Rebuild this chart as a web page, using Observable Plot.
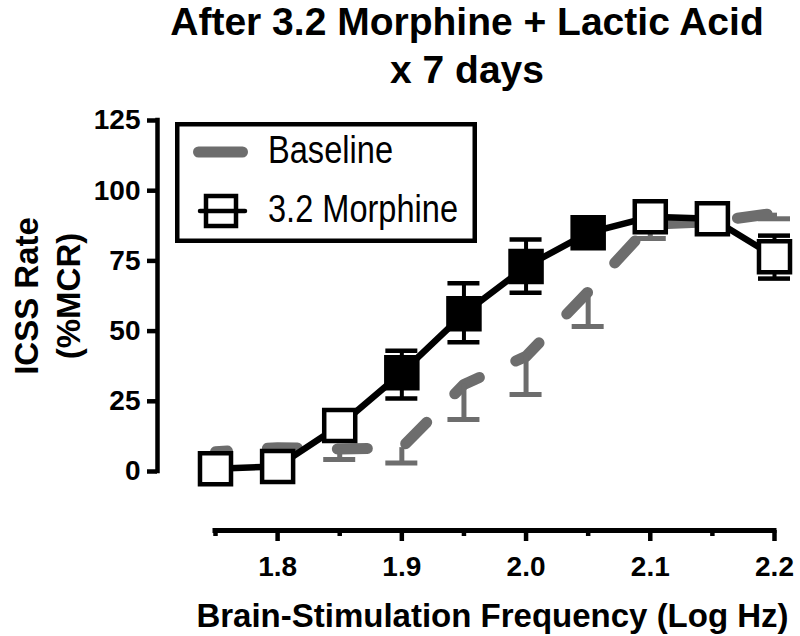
<!DOCTYPE html>
<html>
<head>
<meta charset="utf-8">
<script src="https://cdn.jsdelivr.net/npm/d3@7"></script>
<script src="https://cdn.jsdelivr.net/npm/@observablehq/plot@0.6"></script>
<style>
  body { margin: 0; background: #fff; }
  #wrap { position: relative; width: 800px; height: 636px; font-family: "Liberation Sans", Arial, sans-serif; color: #000; }
  #title { height: 90px; overflow: visible; }
  #title div { position: relative; top: -2.5px; margin-left: 134px; text-align: center; font-weight: bold; font-size: 39px; line-height: 48px; }
  #legend { position: absolute; left: 0; top: 0; pointer-events: none; }
  #chart svg { display: block; }
</style>
</head>
<body>
<div id="wrap">
  <div id="title"><div>After 3.2 Morphine + Lactic Acid<br>x 7 days</div></div>
  <div id="chart"></div>
</div>
<script>
// ---- data ----
const freq        = [1.75, 1.80, 1.85, 1.90, 1.95, 2.00, 2.05, 2.10, 2.15, 2.20];
const baseline    = [7, 8.5, 8, 8.5, 31, 41, 64, 88, 89, 92];
const baselineLo  = [5, 6, 4.3, 3, 18.5, 27.4, 51.6, 83, 87, 90];
const morphine    = [1, 1.8, 16.4, 35.2, 56.2, 73, 85, 90.7, 90, 76.5];
const morphineLo  = [0, 0.5, 14, 26, 46, 63.7, 82, 89, 88, 68.7];
const morphineHi  = [2, 3, 18.5, 43, 67, 82.6, 88, 92.5, 92, 84];
const significant = [false, false, false, true, true, true, true, false, false, false];
const seriesNames = ["Baseline", "3.2 Morphine"];
const yTicks = [0, 25, 50, 75, 100, 125];
const xMajor = [1.8, 1.9, 2.0, 2.1, 2.2];
const xMinor = [1.75, 1.85, 1.95, 2.05, 2.15];
const xLabel = "Brain-Stimulation Frequency (Log Hz)";
const yLabel = "ICSS Rate\n(%MCR)";

const rows = freq.map((f, i) => ({
  freq: f, base: baseline[i], baseLo: baselineLo[i],
  mor: morphine[i], morLo: morphineLo[i], morHi: morphineHi[i], sig: significant[i]
}));

const gray = "#6d6d6d";

const chart = Plot.plot({
  width: 800,
  height: 546,
  marginLeft: 215,
  marginRight: 26,
  marginTop: 30,
  marginBottom: 165,
  style: { fontFamily: "Liberation Sans, Arial, sans-serif", color: "black", background: "white", overflow: "visible" },
  x: { domain: [1.75, 2.2], label: null },
  y: { domain: [0, 125], label: null },
  marks: [
    // axes
    Plot.ruleX([1.75], { y1: 0, y2: 125, dx: -58, strokeWidth: 4.5, strokeLinecap: "square" }),
    Plot.axisY(yTicks, { anchor: "left", tickSize: 10, tickPadding: 7, dx: -58, strokeWidth: 4.5,
      fontSize: 28, fontWeight: "bold", tickFormat: d => String(d), label: null }),
    Plot.ruleY([0], { x1: 1.75, x2: 2.2, dy: 59, strokeWidth: 5, strokeLinecap: "square" }),
    Plot.axisX(xMajor, { anchor: "bottom", tickSize: 11, tickPadding: 15, dy: 59, strokeWidth: 4.5,
      fontSize: 28, fontWeight: "bold", tickFormat: d3.format(".1f"), label: null }),
    Plot.axisX(xMinor, { anchor: "bottom", tickSize: 6, dy: 59, strokeWidth: 4.5,
      tickFormat: () => "", label: null }),
    Plot.text([xLabel], { frameAnchor: "bottom", textAnchor: "middle", lineAnchor: "middle", dx: -2.5, dy: 145,
      fontSize: 33, fontWeight: "bold" }),
    Plot.text([yLabel], { frameAnchor: "left", textAnchor: "middle", lineAnchor: "middle", rotate: -90, dx: -170,
      fontSize: 33, fontWeight: "bold", lineHeight: 1.27 }),
    // baseline series (gray dashed, one-sided error bars)
    Plot.line(rows, { x: "freq", y: "base", stroke: gray, strokeWidth: 11, strokeLinecap: "round",
      strokeDasharray: "30,40", strokeDashoffset: 18 }),
    Plot.ruleX(rows, { x: "freq", y1: "base", y2: "baseLo", stroke: gray, strokeWidth: 5 }),
    Plot.ruleY(rows, { x1: "freq", x2: "freq", y: "baseLo", stroke: gray, strokeWidth: 5,
      insetLeft: -16, insetRight: -16 }),
    // morphine series
    Plot.ruleX(rows, { x: "freq", y1: "morLo", y2: "morHi", stroke: "black", strokeWidth: 4 }),
    Plot.ruleY(rows, { x1: "freq", x2: "freq", y: "morLo", stroke: "black", strokeWidth: 4.5,
      insetLeft: -16, insetRight: -16 }),
    Plot.ruleY(rows, { x1: "freq", x2: "freq", y: "morHi", stroke: "black", strokeWidth: 4.5,
      insetLeft: -16, insetRight: -16 }),
    Plot.line(rows, { x: "freq", y: "mor", stroke: "black", strokeWidth: 6.5 }),
    Plot.dot(rows, { x: "freq", y: "mor", symbol: "square", r: 17.5, fill: "white",
      stroke: "black", strokeWidth: 4.5, filter: d => !d.sig }),
    Plot.dot(rows, { x: "freq", y: "mor", symbol: "square", r: 17.5, fill: "black",
      stroke: "black", strokeWidth: 4.5, filter: d => d.sig })
  ]
});
document.getElementById("chart").appendChild(chart);

// ---- legend (page coordinates) ----
const leg = d3.select("#wrap").append("svg").attr("id", "legend")
  .attr("width", 800).attr("height", 636);
leg.append("rect").attr("x", 177.25).attr("y", 124.25).attr("width", 297.5).attr("height", 116.5)
  .attr("fill", "white").attr("stroke", "black").attr("stroke-width", 4.5);
leg.append("line").attr("x1", 198.5).attr("x2", 242.5).attr("y1", 152).attr("y2", 152)
  .attr("stroke", gray).attr("stroke-width", 11).attr("stroke-linecap", "round");
leg.append("line").attr("x1", 200).attr("x2", 245).attr("y1", 211).attr("y2", 211)
  .attr("stroke", "black").attr("stroke-width", 4.5).attr("stroke-linecap", "round");
leg.append("rect").attr("x", 206).attr("y", 196).attr("width", 30).attr("height", 30)
  .attr("fill", "none").attr("stroke", "black").attr("stroke-width", 4.5);
const legTexts = [[seriesNames[0], 163, 125], [seriesNames[1], 222, 190]];
legTexts.forEach(([t, y, len]) => {
  leg.append("text").attr("x", 268).attr("y", y).attr("font-size", 38)
    .attr("font-family", "Liberation Sans, Arial, sans-serif")
    .attr("textLength", len).attr("lengthAdjust", "spacingAndGlyphs").text(t);
});
</script>
</body>
</html>
